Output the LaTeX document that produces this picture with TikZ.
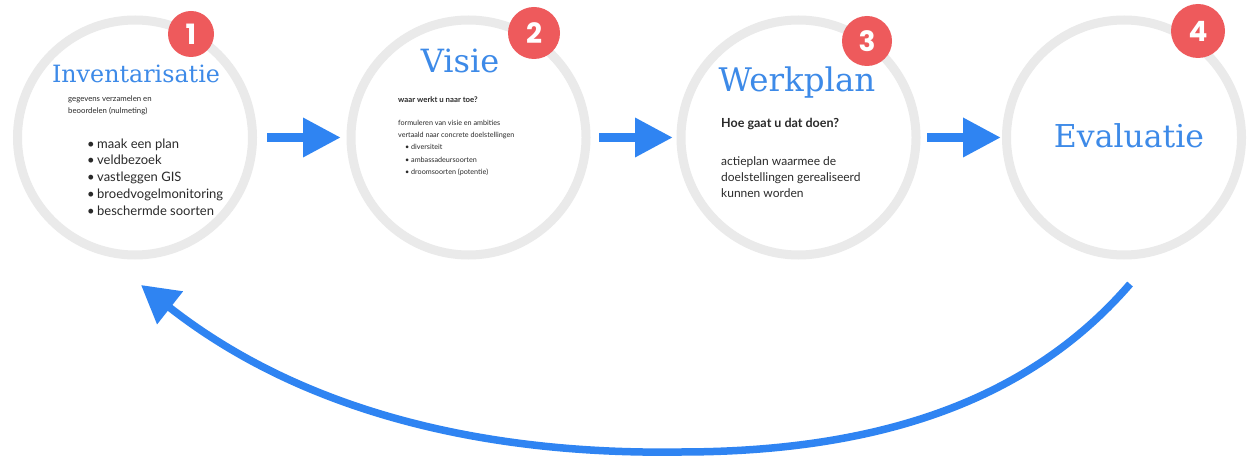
\documentclass[tikz,border=0pt]{standalone}
\usepackage{fontspec}
\setmainfont{Lato}
\newfontfamily\titlefont{DejaVu Serif}
\newfontfamily\numfont{Poppins}
\usetikzlibrary{arrows.meta}
\definecolor{ringgray}{HTML}{EAEAEA}
\definecolor{arrowblue}{HTML}{2F84F2}
\definecolor{titleblue}{HTML}{3D8AE8}
\definecolor{badgered}{HTML}{EE5A5C}
\definecolor{bodytext}{HTML}{2A2A2A}
\tikzset{
  ring/.style={circle, draw=ringgray, line width=9pt, minimum size=235pt, inner sep=0pt, outer sep=0pt},
  badge/.style={circle, fill=badgered, text=white, minimum size=50pt, inner sep=0pt,
    font=\numfont\bfseries\fontsize{28}{28}\selectfont},
  titletext/.style={anchor=base, inner sep=0pt, text=titleblue},
  bodyline/.style={anchor=base west, inner sep=0pt, text=bodytext},
  flowarrow/.style={draw=arrowblue, line width=9.5pt, -{Triangle[length=38pt,width=37pt]}},
  backarrow/.style={draw=arrowblue, line width=7.5pt, -{Triangle[length=37pt,width=40pt]}},
}
\begin{document}
\begin{tikzpicture}[x=1pt,y=-1pt]
\fill[white] (0,0) rectangle (1255,457);
\useasboundingbox (0,0) rectangle (1255,457);

% rings
\node[ring] (c1) at (135,137.5) {};
\node[ring] (c2) at (468.5,137.5) {};
\node[ring] (c3) at (798.5,137.5) {};
\node[ring] (c4) at (1124,137.5) {};

% badges
\node[badge, minimum size=46pt] (b1) at (191,34) {1};
\node[badge, minimum size=52pt] (b2) at (534,33) {2};
\node[badge] (b3) at (867,41) {3};
\node[badge, minimum size=54pt] (b4) at (1198,31) {4};

% titles
\node[titletext, font=\titlefont\fontsize{23.8}{24}\selectfont] (t1) at (136,83) {Inventarisatie};
\node[titletext, font=\titlefont\fontsize{32}{32}\selectfont] (t2) at (460,73) {Visie};
\node[titletext, font=\titlefont\fontsize{32.5}{33}\selectfont] (t3) at (797,92) {Werkplan};
\node[titletext, font=\titlefont\fontsize{31.5}{32}\selectfont] (t4) at (1129,148) {Evaluatie};

% circle 1 text
\node[bodyline, font=\fontsize{7.8}{9}\selectfont] (p1a) at (68,101.5) {gegevens verzamelen en};
\node[bodyline, font=\fontsize{7.8}{9}\selectfont] (p1b) at (68,114) {beoordelen (nulmeting)};
\node[bodyline, font=\fontsize{13}{15}\selectfont] (l1a) at (87,148.25) {\makebox[10pt][l]{•}maak een plan};
\node[bodyline, font=\fontsize{13}{15}\selectfont] (l1b) at (87,165) {\makebox[10pt][l]{•}veldbezoek};
\node[bodyline, font=\fontsize{13}{15}\selectfont] (l1c) at (87,181.75) {\makebox[10pt][l]{•}vastleggen GIS};
\node[bodyline, font=\fontsize{13}{15}\selectfont] (l1d) at (87,198.5) {\makebox[10pt][l]{•}broedvogelmonitoring};
\node[bodyline, font=\fontsize{13}{15}\selectfont] (l1e) at (87,215.25) {\makebox[10pt][l]{•}beschermde soorten};

% circle 2 text
\node[bodyline, font=\bfseries\fontsize{7.8}{9}\selectfont] (q2) at (398,103) {waar werkt u naar toe?};
\node[bodyline, font=\fontsize{7.2}{9}\selectfont] (p2a) at (398,126) {formuleren van visie en ambities};
\node[bodyline, font=\fontsize{7.2}{9}\selectfont] (p2b) at (398,138) {vertaald naar concrete doelstellingen};
\node[bodyline, font=\fontsize{7.2}{9}\selectfont] (l2a) at (405,150) {\makebox[6pt][l]{•}diversiteit};
\node[bodyline, font=\fontsize{7.2}{9}\selectfont] (l2b) at (405,162.5) {\makebox[6pt][l]{•}ambassadeursoorten};
\node[bodyline, font=\fontsize{7.2}{9}\selectfont] (l2c) at (405,175) {\makebox[6pt][l]{•}droomsoorten (potentie)};

% circle 3 text
\node[bodyline, font=\bfseries\fontsize{12.5}{14}\selectfont] (q3) at (721,128) {Hoe gaat u dat doen?};
\node[bodyline, font=\fontsize{12}{14}\selectfont] (p3a) at (721,166) {actieplan waarmee de};
\node[bodyline, font=\fontsize{12}{14}\selectfont] (p3b) at (721,181.75) {doelstellingen gerealiseerd};
\node[bodyline, font=\fontsize{12}{14}\selectfont] (p3c) at (721,197.5) {kunnen worden};

% flow arrows
\draw[flowarrow, shorten <=14.5pt, shorten >=10pt] (c1.east) -- (c2.west);
\draw[flowarrow, shorten <=13pt, shorten >=8pt] (c2.east) -- (c3.west);
\draw[flowarrow, shorten <=11pt, shorten >=5.5pt] (c3.east) -- (c4.west);

% feedback arrow
\coordinate (fbstart) at (1130,284);
\coordinate (fbbottom) at (680,452);
\coordinate (fbend) at (141,285);
\draw[backarrow] (fbstart) .. controls (1030,400) and (880,452) .. (fbbottom)
  .. controls (480,455) and (300,410) .. (fbend);
\end{tikzpicture}
\end{document}
